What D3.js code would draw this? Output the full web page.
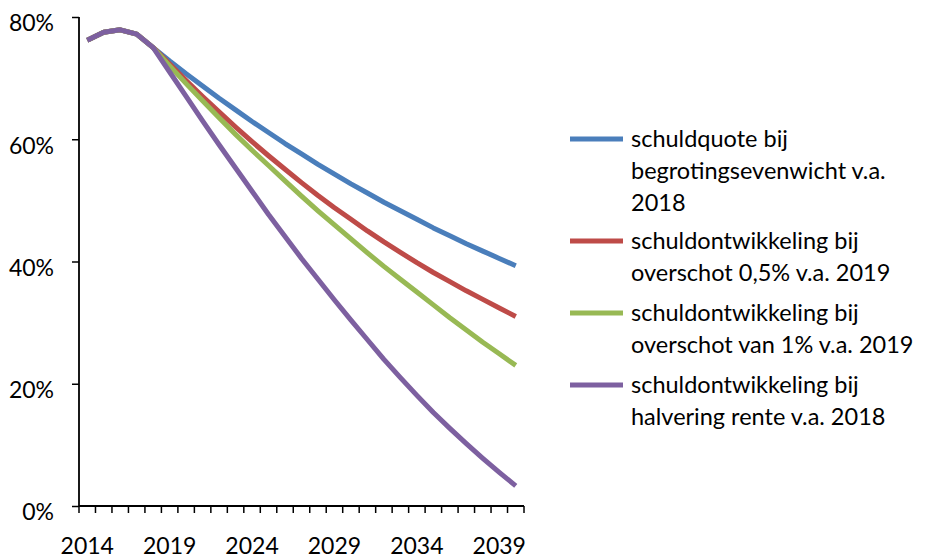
<!DOCTYPE html>
<html>
<head>
<meta charset="utf-8">
<script src="https://cdn.jsdelivr.net/npm/d3@7"></script>
<style>
  body { margin: 0; background: #fff; }
  svg text { font-family: Lato, "Liberation Sans", sans-serif; fill: #000; }
</style>
</head>
<body>
<svg id="chart" width="926" height="559"></svg>
<script>
// years on the category axis
const years = d3.range(2014, 2041);
const tickYears = [2014, 2019, 2024, 2029, 2034, 2039];
const yTicks = [0, 20, 40, 60, 80];

// series values (% of GDP)
const evenwicht = [76.2, 77.5, 77.9, 77.2, 75.0, 72.8, 70.7, 68.7, 66.7, 64.8, 62.9, 61.1, 59.3, 57.6,
  55.9, 54.3, 52.7, 51.2, 49.7, 48.3, 46.9, 45.5, 44.2, 42.9, 41.7, 40.5, 39.3];
const overschot05 = [76.2, 77.5, 77.9, 77.2, 75.0, 72.3, 69.6, 67.0, 64.5, 62.0, 59.6, 57.3, 55.1, 52.9,
  50.8, 48.8, 46.9, 45.0, 43.2, 41.5, 39.8, 38.2, 36.7, 35.2, 33.8, 32.4, 31.0];
const overschot1 = [76.2, 77.5, 77.9, 77.2, 75.0, 72.0, 69.1, 66.3, 63.5, 60.8, 58.2, 55.7, 53.2, 50.7,
  48.3, 46.0, 43.7, 41.4, 39.2, 37.1, 35.0, 32.9, 30.8, 28.8, 26.8, 24.9, 23.0];
const halveringRente = [76.2, 77.5, 77.9, 77.2, 75.0, 71.0, 67.0, 63.0, 59.1, 55.3, 51.5, 47.7, 44.1, 40.5,
  37.1, 33.7, 30.4, 27.2, 24.0, 21.0, 18.1, 15.3, 12.7, 10.2, 7.8, 5.5, 3.3];

const seriesNames = [
  ["schuldquote bij", "begrotingsevenwicht v.a.", "2018"],
  ["schuldontwikkeling bij", "overschot 0,5% v.a. 2019"],
  ["schuldontwikkeling bij", "overschot van 1% v.a. 2019"],
  ["schuldontwikkeling bij", "halvering rente v.a. 2018"]
];
const seriesValues = [evenwicht, overschot05, overschot1, halveringRente];
const colors = ["#4a7ebb", "#be4b48", "#98b954", "#7d60a0"];

const svg = d3.select("#chart");

// plot area
const plotLeft = 79, plotRight = 524, plotTop = 17, plotBottom = 506;

const x = d3.scaleBand().domain(years).range([plotLeft, plotRight]).paddingInner(0).paddingOuter(0);
const y = d3.scaleLinear().domain([0, 80]).range([plotBottom, plotTop]);

// y axis
const yAxis = svg.append("g")
    .attr("transform", `translate(${plotLeft},0)`)
    .call(d3.axisLeft(y).tickValues(yTicks).tickSize(7).tickPadding(18).tickFormat(d => d + "%"));
yAxis.select(".domain").attr("stroke", "#000").attr("stroke-width", 1.8).attr("d", `M0,${plotTop}V${plotBottom}`);
yAxis.selectAll(".tick line").attr("stroke", "#000").attr("stroke-width", 1.5);
yAxis.selectAll(".tick text").attr("font-size", 23).attr("dy", "0.6em").attr("fill", "#000");

// x axis, ticks between categories, labels every 5 years
const xAxis = svg.append("g")
    .attr("transform", `translate(0,${plotBottom})`)
    .call(d3.axisBottom(x).tickValues(tickYears).tickSize(0).tickPadding(32));
xAxis.select(".domain").attr("stroke", "#000").attr("stroke-width", 1.8).attr("d", `M${plotLeft},0H${plotRight}`);
xAxis.selectAll(".tick text").attr("font-size", 23).attr("fill", "#000");
xAxis.selectAll(".boundary")
    .data(years.map(d => x(d)).concat([plotRight]))
    .join("line")
    .attr("class", "boundary")
    .attr("x1", d => d).attr("x2", d => d)
    .attr("y1", 0).attr("y2", 7)
    .attr("stroke", "#000").attr("stroke-width", 1.5);

// lines
const line = d3.line()
    .x((d, i) => x(years[i]) + x.bandwidth() / 2)
    .y(d => y(d));

svg.append("g").selectAll("path")
    .data(seriesValues)
    .join("path")
    .attr("d", line)
    .attr("fill", "none")
    .attr("stroke", (d, i) => colors[i])
    .attr("stroke-width", 5)
    .attr("stroke-linejoin", "round");

// legend
const legend = svg.append("g");
let ly = 139;
seriesNames.forEach((lines, i) => {
  const g = legend.append("g").attr("transform", `translate(0,${ly})`);
  g.append("line")
    .attr("x1", 570).attr("x2", 623)
    .attr("y1", 0).attr("y2", 0)
    .attr("stroke", colors[i]).attr("stroke-width", 5);
  lines.forEach((t, j) => {
    g.append("text")
      .attr("x", 631)
      .attr("y", 8 + j * 32)
      .attr("font-size", 23.5)
      .text(t);
  });
  ly += lines.length * 32 + (i === 0 ? 6 : 8);
});
</script>
</body>
</html>
